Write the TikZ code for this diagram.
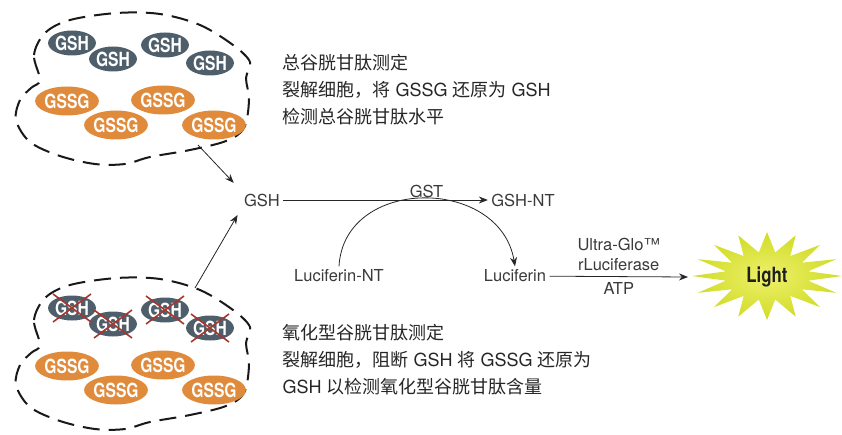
\documentclass[tikz,border=0pt]{standalone}
\usepackage{fontspec}
\setmainfont{TeX Gyre Heros}
\newfontfamily\cjk{Noto Sans CJK SC}
\usetikzlibrary{arrows.meta,shapes.geometric}

\definecolor{gshblue}{HTML}{4E5F6B}
\definecolor{gssgorange}{HTML}{E08A3C}
\definecolor{crossred}{HTML}{A8342B}
\definecolor{labelgray}{HTML}{3A3A3A}
\definecolor{starouter}{HTML}{D0DC26}
\definecolor{starinner}{HTML}{EEF06C}

\newcommand{\slim}[1]{\scalebox{0.8}[1]{#1}}
% outline of one cell
\newcommand{\cellwall}{plot[smooth cycle, tension=0.55] coordinates {
(40,80) (34,55) (45,33) (70,20) (117,13) (160,14) (200,25) (233,45)
(250,62) (246,78) (249,100) (244,128) (226,141) (190,150) (150,157)
(125,164) (95,164) (60,156) (30,142) (16,120) (20,100) (31,88)}}

\tikzset{
  molecule/.style={ellipse, inner sep=0pt, text=white,
    font=\bfseries\fontsize{19.5}{19.5}\selectfont},
  gsh/.style={molecule, fill=gshblue, minimum width=44pt, minimum height=25pt},
  gssg/.style={molecule, fill=gssgorange, minimum width=51pt, minimum height=29pt},
  wall/.style={dash pattern=on 17pt off 9pt, line width=2pt, black!90},
  knockout/.style={crossred, line width=1.6pt},
  chem/.style={text=labelgray, font=\fontsize{16.5}{20}\selectfont},
  note/.style={text=black!85, anchor=base west, font=\fontsize{18}{18}\selectfont},
  arrow/.style={-{Stealth[length=9pt,width=7pt]}, line width=0.8pt, black!85},
}

\begin{document}
\begin{tikzpicture}[x=1pt,y=-1pt]
\useasboundingbox (0,0) rectangle (842,435);

% the two cells
\foreach \dy/\tag in {0/t,265/b}{
\begin{scope}[shift={(0,\dy)}]
\draw[wall] \cellwall;
\foreach \x/\y [count=\i] in {72/43,113/59,165/45,210/63}
  \node[gsh] (gsh\i\tag) at (\x,\y) {\slim{GSH}};
\foreach \x/\y [count=\i] in {67/101,116/125,163/100,214/125}
  \node[gssg] (gssg\i\tag) at (\x,\y) {\slim{GSSG}};
\end{scope}
}
\foreach \i in {1,...,4}
  \draw[knockout] (gsh\i b.center) +(-19,-14) -- +(19,14)
    (gsh\i b.center) +(-19,14) -- +(19,-14);

% notes
\node[note] (tot1) at (279,70) {\cjk 总谷胱甘肽测定};
\node[note] (tot2) at (279,97) {{\cjk 裂解细胞，将} GSSG {\cjk 还原为} GSH};
\node[note] (tot3) at (279,124) {\cjk 检测总谷胱甘肽水平};
\node[note] (ox1) at (279,339) {\cjk 氧化型谷胱甘肽测定};
\node[note] (ox2) at (279,366) {{\cjk 裂解细胞，阻断} GSH {\cjk 将} GSSG {\cjk 还原为}};
\node[note] (ox3) at (279,393) {GSH {\cjk 以检测氧化型谷胱甘肽含量}};

% reaction
\node[chem] (gsh) at (262,200) {GSH};
\node[chem] (gshnt) at (523,200) {GSH-NT};
\node[chem] (lucnt) at (339,276) {Luciferin-NT};
\node[chem] (luc) at (515,276) {Luciferin};

\coordinate (topout) at (198,145);
\coordinate (botout) at (195,288);
\draw[arrow, shorten >=10pt] (topout) -- (gsh.north west);
\draw[arrow, shorten >=6pt] (botout) -- (gsh.south west);

\draw[arrow] (gsh) -- (gshnt) node[chem, pos=0.7, above=-2pt] (gst) {GST};
\draw[arrow] (lucnt.north) .. controls (344,176) and (500,176) .. (luc.north);

% light burst
\shade[inner color=starinner, outer color=starouter]
  plot[samples at={0,...,31}, variable=\k]
  ({767+(58.5+16.5*cos(\k*180))*cos(\k*11.25)},
   {276+(34+10*cos(\k*180))*sin(\k*11.25)}) -- cycle;
\node[font=\bfseries\fontsize{21}{21}\selectfont, text=black!88] (light)
  at (767,277) {\scalebox{0.8}[1]{Light}};
\coordinate (starleft) at (688,277);

\draw[arrow] (luc) -- (starleft)
  node[chem, midway, above, align=center, yshift=2pt] (enz) {Ultra-Glo™\\rLuciferase}
  node[chem, midway, below, yshift=-2pt] (atp) {ATP};
\end{tikzpicture}
\end{document}
